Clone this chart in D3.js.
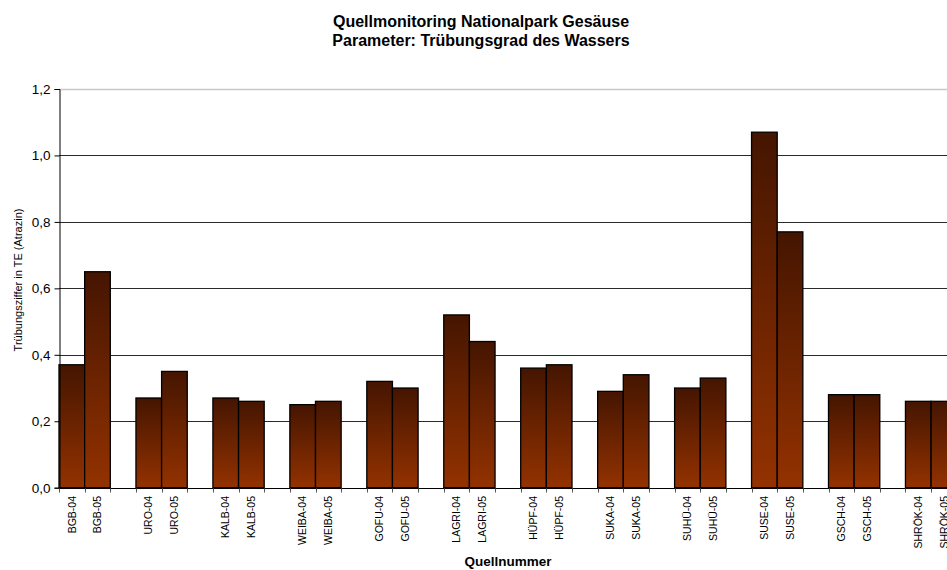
<!DOCTYPE html>
<html><head><meta charset="utf-8">
<script src="https://cdn.jsdelivr.net/npm/d3@7/dist/d3.min.js"></script>
<style>body{margin:0;background:#fff;} svg{display:block;font-family:Arial,"Liberation Sans",sans-serif;}</style>
</head><body>
<svg id="chart" width="947" height="570"></svg>
<script>
const sources = ["BGB","URO","KALB","WEIBA","GOFU","LAGRI","HÜPF","SUKA","SUHÜ","SUSE","GSCH","SHRÖK"];
const years = ["04","05"];
const values04 = [0.37,0.27,0.27,0.25,0.32,0.52,0.36,0.29,0.30,1.07,0.28,0.26];
const values05 = [0.65,0.35,0.26,0.26,0.30,0.44,0.37,0.34,0.33,0.77,0.28,0.26];
const yTicks = [0,0.2,0.4,0.6,0.8,1.0,1.2];
const titleLines = ["Quellmonitoring Nationalpark Gesäuse","Parameter: Trübungsgrad des Wassers"];
const yTitle = "Trübungsziffer in TE (Atrazin)";
const xTitle = "Quellnummer";

// slots: two bars per source, blank slot between groups
const slots = [];
const bars = [];
sources.forEach((s,i)=>{
  if(i>0) slots.push("gap"+i);
  const k4 = s+"-"+years[0], k5 = s+"-"+years[1];
  slots.push(k4); slots.push(k5);
  bars.push({key:k4,value:values04[i]});
  bars.push({key:k5,value:values05[i]});
});

const svg = d3.select("#chart");
const left = 59, slotW = 25.65;
const x = d3.scaleBand().domain(slots).range([left, left + slots.length*slotW]).padding(0);
const y = d3.scaleLinear().domain([0,1.2]).range([487.7, 89]);

const defs = svg.append("defs");
const grad = defs.append("linearGradient").attr("id","barGrad").attr("x1",0).attr("y1",0).attr("x2",0).attr("y2",1);
grad.append("stop").attr("offset","0%").attr("stop-color","#451500");
grad.append("stop").attr("offset","100%").attr("stop-color","#933200");

// grid
svg.append("g").selectAll("line").data(yTicks.filter(d=>d>0)).join("line")
  .attr("x1",left).attr("x2",947)
  .attr("y1",d=>Math.round(y(d))+0.5).attr("y2",d=>Math.round(y(d))+0.5)
  .attr("stroke",d=>d===1.2?"#c8c8c8":"#2a2a2a").attr("stroke-width",d=>d===1.2?1.5:1);

// bars
svg.append("g").selectAll("rect").data(bars).join("rect")
  .attr("x",d=>x(d.key))
  .attr("width",x.bandwidth())
  .attr("y",d=>y(d.value))
  .attr("height",d=>y(0)-y(d.value))
  .attr("fill","url(#barGrad)")
  .attr("stroke","#000").attr("stroke-width",1.3);

// y axis
const yAxis = d3.axisLeft(y).tickValues(yTicks).tickSize(5).tickPadding(4)
  .tickFormat(d=>d3.format(".1f")(d).replace(".",","));
const gy = svg.append("g").attr("transform",`translate(${left+0.5},0)`).call(yAxis);
gy.select(".domain").attr("stroke","#000");
gy.selectAll(".tick line").attr("stroke","#000");
gy.selectAll("text").attr("font-size","13.5px").attr("fill","#000").attr("font-family","Arial, 'Liberation Sans', sans-serif");

// x axis line and ticks
const xAxisY = Math.round(y(0))+0.5;
svg.append("line").attr("x1",left).attr("x2",947).attr("y1",xAxisY).attr("y2",xAxisY).attr("stroke","#000").attr("stroke-width",1.2);
const bounds = d3.range(slots.length+1).map(i=>left + i*x.step());
svg.append("g").selectAll("line").data(bounds).join("line")
  .attr("x1",d=>Math.round(d)+0.5).attr("x2",d=>Math.round(d)+0.5)
  .attr("y1",xAxisY).attr("y2",xAxisY+4).attr("stroke","#555");

// x labels
svg.append("g").selectAll("text").data(bars).join("text")
  .attr("transform",d=>`translate(${x(d.key)+x.bandwidth()/2},496) rotate(-90)`)
  .attr("dy","0.35em")
  .attr("text-anchor","end")
  .attr("font-size","10.5px")
  .text(d=>d.key);

// titles
svg.append("g").selectAll("text").data(titleLines).join("text")
  .attr("x",481).attr("y",(d,i)=>27+i*19)
  .attr("text-anchor","middle").attr("font-weight","bold").attr("font-size","16px")
  .text(d=>d);

svg.append("text").attr("x",508).attr("y",566).attr("text-anchor","middle")
  .attr("font-weight","bold").attr("font-size","13.5px").text(xTitle);

svg.append("text").attr("transform","translate(22,280) rotate(-90)")
  .attr("text-anchor","middle").attr("font-size","11px").text(yTitle);
</script>
</body></html>
